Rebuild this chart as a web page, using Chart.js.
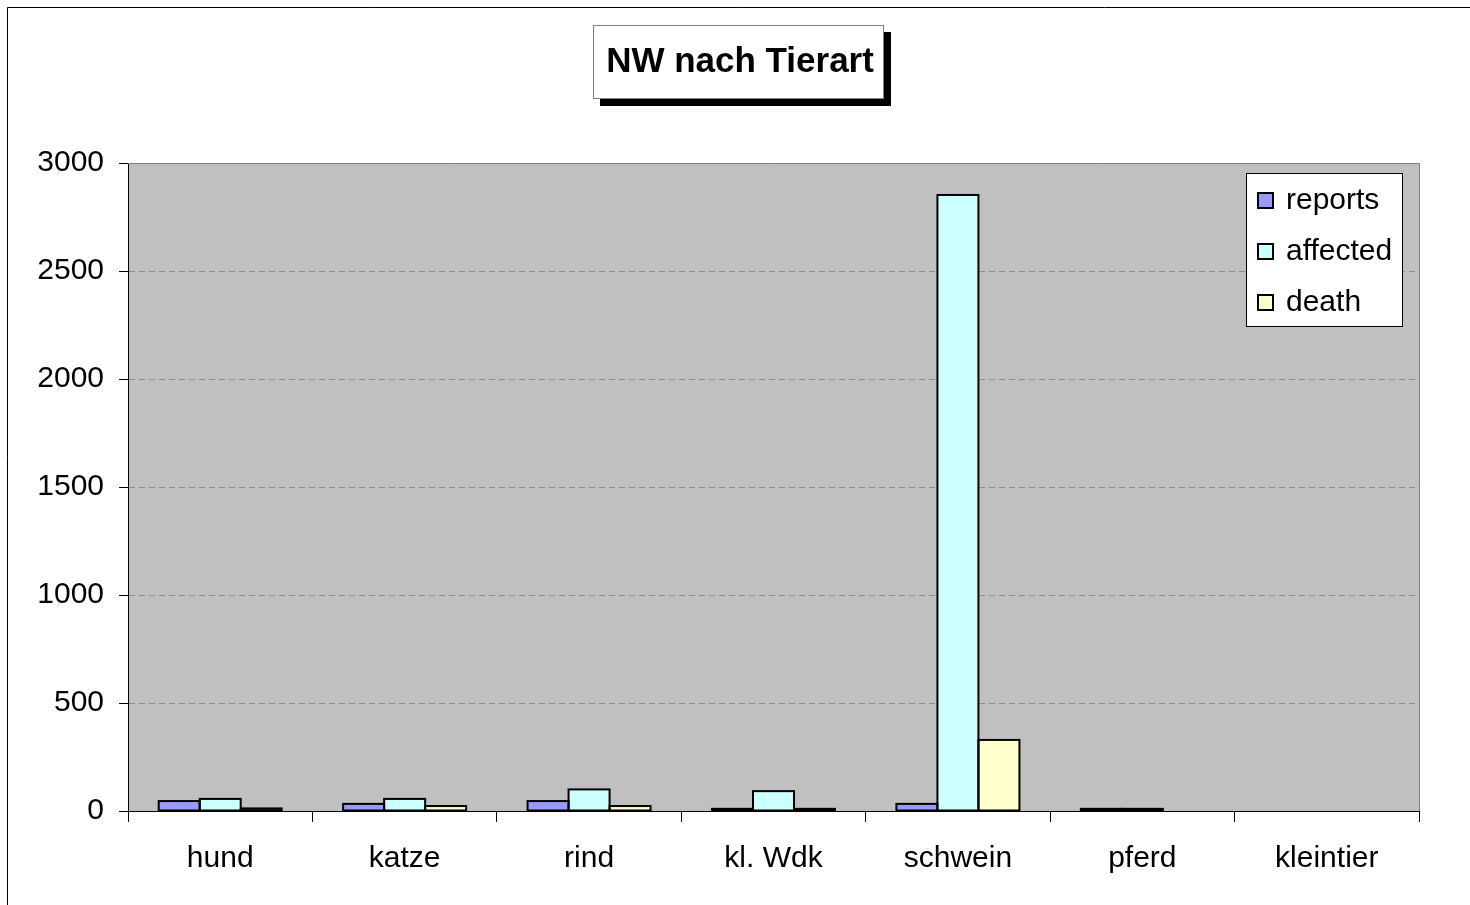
<!DOCTYPE html>
<html>
<head>
<meta charset="utf-8">
<title>NW nach Tierart</title>
<script src="https://cdn.jsdelivr.net/npm/chart.js@4/dist/chart.umd.min.js"></script>
<style>
  html, body { margin: 0; padding: 0; background: #fff; }
  canvas { display: block; }
</style>
</head>
<body>
<canvas id="chart" width="1470" height="905"></canvas>
<script>
// Data
const categories = ['hund', 'katze', 'rind', 'kl. Wdk', 'schwein', 'pferd', 'kleintier'];
const reports  = [46, 33, 46, 10, 33, 10, 0];
const affected = [56, 56, 100, 92, 2852, 10, 0];
const death    = [12, 23, 23, 10, 329, 0, 0];
const yTicks   = [0, 500, 1000, 1500, 2000, 2500, 3000];

const chartTitle = 'NW nach Tierart';
const FONT = '"Liberation Sans", Arial, sans-serif';

// Grey plot area, frame, bar outlines, title box with shadow and legend box
const decorations = {
    id: 'decorations',
    beforeDraw(chart) {
        const ctx = chart.ctx;
        const a = chart.chartArea;
        ctx.save();
        ctx.fillStyle = '#fff';
        ctx.fillRect(0, 0, chart.width, chart.height);
        // outer frame (only top and left edges are inside the picture)
        ctx.strokeStyle = '#000';
        ctx.lineWidth = 1;
        ctx.beginPath();
        ctx.moveTo(7.5, chart.height);
        ctx.lineTo(7.5, 7.5);
        ctx.lineTo(chart.width, 7.5);
        ctx.stroke();
        // plot background
        ctx.fillStyle = '#c0c0c0';
        ctx.fillRect(a.left, a.top, a.right - a.left, a.bottom - a.top);
        ctx.restore();
    },
    afterDatasetsDraw(chart) {
        // outline each bar with a line centred on its edge, like the original
        const ctx = chart.ctx;
        ctx.save();
        ctx.strokeStyle = '#000';
        ctx.lineWidth = 2;
        chart.data.datasets.forEach((ds, i) => {
            chart.getDatasetMeta(i).data.forEach((bar, j) => {
                if (!ds.data[j]) return;
                const p = bar.getProps(['x', 'y', 'base', 'width'], true);
                ctx.strokeRect(p.x - p.width / 2, p.y, p.width, p.base - p.y);
            });
        });
        ctx.restore();
    },
    afterDraw(chart) {
        const ctx = chart.ctx;
        const a = chart.chartArea;
        ctx.save();
        // top and right edges of the plot area
        ctx.strokeStyle = '#808080';
        ctx.lineWidth = 1;
        ctx.beginPath();
        ctx.moveTo(a.left, a.top + 0.5);
        ctx.lineTo(a.right + 0.5, a.top + 0.5);
        ctx.lineTo(a.right + 0.5, a.bottom);
        ctx.stroke();

        // title box
        ctx.fillStyle = '#000';
        ctx.fillRect(600, 32, 291, 74);
        ctx.fillStyle = '#fff';
        ctx.fillRect(593, 25, 291, 74);
        ctx.strokeStyle = '#808080';
        ctx.strokeRect(593.5, 25.5, 290, 73);
        ctx.fillStyle = '#000';
        ctx.font = 'bold 35px ' + FONT;
        ctx.textAlign = 'center';
        ctx.textBaseline = 'middle';
        ctx.fillText(chartTitle, 740, 62);

        // legend
        ctx.fillStyle = '#fff';
        ctx.fillRect(1246, 173, 157, 154);
        ctx.strokeStyle = '#000';
        ctx.strokeRect(1246.5, 173.5, 156, 153);
        ctx.font = '30px ' + FONT;
        ctx.textAlign = 'left';
        ctx.textBaseline = 'middle';
        chart.data.datasets.forEach((ds, i) => {
            const cy = 201 + i * 51;
            ctx.fillStyle = ds.backgroundColor;
            ctx.fillRect(1258, cy - 8, 15, 15);
            ctx.strokeStyle = '#000';
            ctx.lineWidth = 2;
            ctx.strokeRect(1258, cy - 8, 15, 15);
            ctx.fillStyle = '#000';
            ctx.fillText(ds.label, 1286, cy);
        });
        ctx.restore();
    }
};

const chart = new Chart(document.getElementById('chart'), {
    type: 'bar',
    data: {
        labels: categories,
        datasets: [
            { label: 'reports',  data: reports,  backgroundColor: '#9999ff' },
            { label: 'affected', data: affected, backgroundColor: '#ccffff' },
            { label: 'death',    data: death,    backgroundColor: '#ffffcc' }
        ].map(ds => Object.assign(ds, {
            borderWidth: 0,
            barPercentage: 1,
            categoryPercentage: 0.667
        }))
    },
    options: {
        responsive: false,
        animation: false,
        events: [],
        layout: { padding: { left: 0, top: 163, right: 51, bottom: 0 } },
        plugins: {
            legend: { display: false },
            title: { display: false },
            tooltip: { enabled: false }
        },
        scales: {
            x: {
                afterFit(scale) { scale.height = 94; },
                grid: {
                    offset: true,
                    drawOnChartArea: false,
                    drawTicks: true,
                    tickLength: 11,
                    tickColor: '#000'
                },
                border: { display: true, color: '#000', width: 1 },
                ticks: {
                    color: '#000',
                    padding: 19,
                    font: { family: FONT, size: 30 },
                    maxRotation: 0,
                    autoSkip: false
                }
            },
            y: {
                min: 0,
                max: 3000,
                afterFit(scale) { scale.width = 128; },
                afterBuildTicks(scale) {
                    scale.ticks = yTicks.map(v => ({ value: v }));
                },
                grid: {
                    color: ctx => (ctx.tick && (ctx.tick.value === 0 || ctx.tick.value === 3000)) ? 'rgba(0,0,0,0)' : '#8c8c8c',
                    tickColor: '#000',
                    tickLength: 9,
                    tickBorderDash: [],
                    lineWidth: 1
                },
                border: { display: true, color: '#000', width: 1, dash: [6, 4] },
                ticks: {
                    color: '#000',
                    padding: 15,
                    font: { family: FONT, size: 30 },
                    callback: v => String(v)
                }
            }
        }
    },
    plugins: [decorations]
});
</script>
</body>
</html>
